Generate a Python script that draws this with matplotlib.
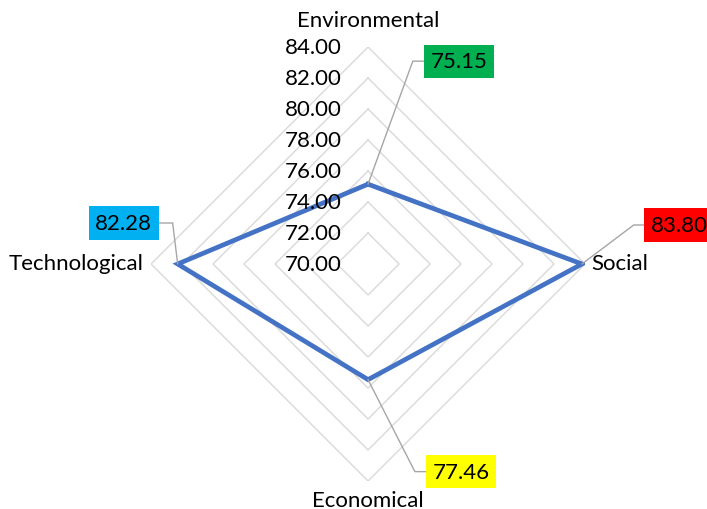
import numpy as np
import matplotlib.pyplot as plt

plt.rcParams['font.family'] = ['Lato', 'DejaVu Sans']

# ---- Datos: ----
categorias = ['Environmental', 'Social', 'Economical', 'Technological']
valores    = [75.15, 83.80, 77.46, 82.28]
colores    = ['#00B050', '#FF0000', '#FFFF00', '#00B0F0']
niveles    = [70, 72, 74, 76, 78, 80, 82, 84]
etiquetas  = ['%.2f' % v for v in niveles]
# ----------------

TAM = 16

angulos = np.arange(len(categorias)) * 2 * np.pi / len(categorias)
ang_c   = np.append(angulos, angulos[0])

fig = plt.figure(figsize=(7.07, 5.10), dpi=100)
ax  = fig.add_axes([0.2136, 0.0549, 0.6139, 0.851], projection='polar')
ax.set_theta_zero_location('N')
ax.set_theta_direction(-1)
ax.set_ylim(70, 84)
ax.set_xticks([])
ax.set_yticks([])
ax.grid(False)
ax.spines['polar'].set_visible(False)

# Rejilla poligonal
for n in niveles[1:]:
    ax.plot(ang_c, [n] * len(ang_c), color='#D9D9D9', lw=1.0, zorder=1)

# Serie
val_c = np.append(valores, valores[0])
ax.plot(ang_c, val_c, color='#4472C4', lw=3.4, zorder=3, solid_joinstyle='miter')

# Etiquetas del eje radial
for n, t in zip(niveles, etiquetas):
    ax.annotate(t, xy=(0, n), xytext=(-26, 0), textcoords='offset pixels',
                ha='right', va='center', fontsize=TAM, color='#000000',
                annotation_clip=False, zorder=4)

# Etiquetas de categoria
desp_cat = [(0, 27, 'center'), (6, 1, 'left'), (0, -19, 'center'), (-8, 1, 'right')]
for a, c, (dx, dy, ha) in zip(angulos, categorias, desp_cat):
    ax.annotate(c, xy=(a, 84), xytext=(dx, dy), textcoords='offset pixels',
                ha=ha, va='center', fontsize=TAM, color='#000000',
                annotation_clip=False)

# Etiquetas de datos con lineas guia
desp_dat = [(91, 123, 70), (97, 39, 37), (93, -92, -63), (-54, 41, 97)]
for a, v, col, (dx, dy, angB) in zip(angulos, valores, colores, desp_dat):
    ax.annotate('%.2f' % v, xy=(a, v), xytext=(dx, dy), textcoords='offset pixels',
                ha='center', va='center', fontsize=TAM, color='#000000',
                bbox=dict(boxstyle='square,pad=0.3', fc=col, ec='none'),
                arrowprops=dict(arrowstyle='-', color='#A6A6A6', lw=1.0,
                                shrinkA=0, shrinkB=0,
                                connectionstyle='angle,angleA=0,angleB=%d,rad=0' % angB),
                annotation_clip=False, zorder=5)

plt.savefig('out.png', dpi=100)
